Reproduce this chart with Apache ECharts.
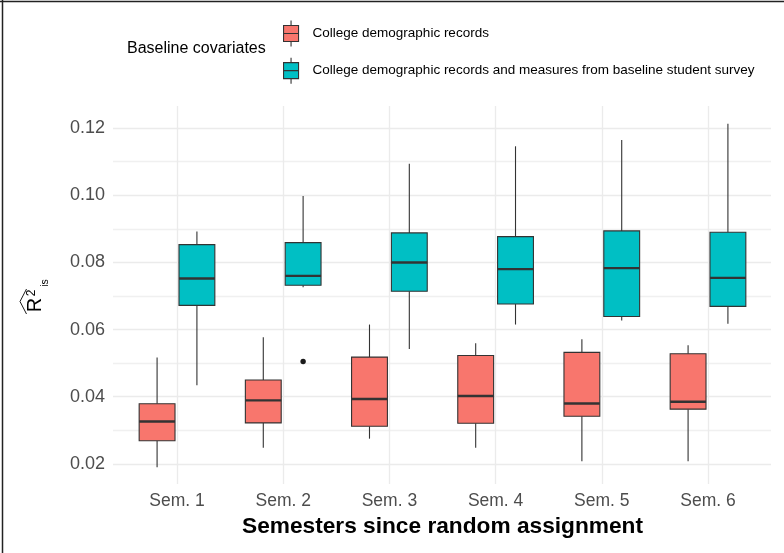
<!DOCTYPE html>
<html><head><meta charset="utf-8">
<script src="https://cdn.jsdelivr.net/npm/echarts@6/dist/echarts.min.js"></script>
<style>html,body{margin:0;padding:0;background:#fff}#c{width:784px;height:553px}</style>
</head><body><div id="c"></div>
<script>
// ---- data ----
const categories = ['Sem. 1', 'Sem. 2', 'Sem. 3', 'Sem. 4', 'Sem. 5', 'Sem. 6'];
const seriesNames = ['College demographic records',
  'College demographic records and measures from baseline student survey'];
const legendTitle = 'Baseline covariates';
const xTitle = 'Semesters since random assignment';
const yTickLabels = ['0.02', '0.04', '0.06', '0.08', '0.10', '0.12'];

const demoMin = [0.0190, 0.0248, 0.0275, 0.0248, 0.0208, 0.0208];
const demoQ1  = [0.0269, 0.0322, 0.0312, 0.0321, 0.0342, 0.0363];
const demoMed = [0.0326, 0.0389, 0.0393, 0.0402, 0.0380, 0.0385];
const demoQ3  = [0.0379, 0.0450, 0.0518, 0.0523, 0.0532, 0.0528];
const demoMax = [0.0517, 0.0577, 0.0615, 0.0559, 0.0571, 0.0553];

const survMin = [0.0434, 0.0726, 0.0542, 0.0615, 0.0627, 0.0617];
const survQ1  = [0.0672, 0.0732, 0.0714, 0.0676, 0.0639, 0.0669];
const survMed = [0.0752, 0.0760, 0.0800, 0.0780, 0.0783, 0.0754];
const survQ3  = [0.0853, 0.0859, 0.0888, 0.0877, 0.0894, 0.0890];
const survMax = [0.0892, 0.0998, 0.1094, 0.1146, 0.1165, 0.1213];
const survOutlierCat = [1];
const survOutlierVal = [0.0505];

// ---- style ----
const FONT = '"Liberation Sans", Arial, Helvetica, sans-serif';
const RED = '#F8766D', TEAL = '#00BFC4', LINE = '#333333', GRID = '#EBEBEB';
const DODGE = 0.1875, BOXW = 0.3375;
const Y_MIN = 0.014, Y_MAX = 0.1266;

function boxData(mn, q1, md, q3, mx) {
  return categories.map((c, i) => [i, mn[i], q1[i], md[i], q3[i], mx[i]]);
}
function makeRender(side) {
  return function (params, api) {
    const i = api.value(0);
    const band = api.size([1, 0])[0];
    const cx = api.coord([i, api.value(3)])[0] + side * DODGE * band;
    const half = BOXW * band / 2;
    const y = k => api.coord([i, api.value(k)])[1];
    const yMin = y(1), yQ1 = y(2), yMed = y(3), yQ3 = y(4), yMax = y(5);
    const fill = api.visual('color');
    const ls = { stroke: LINE, lineWidth: 1.1 };
    return { type: 'group', children: [
      { type: 'line', shape: { x1: cx, y1: yMax, x2: cx, y2: yQ3 }, style: ls },
      { type: 'line', shape: { x1: cx, y1: yQ1, x2: cx, y2: yMin }, style: ls },
      { type: 'rect', shape: { x: cx - half, y: yQ3, width: 2 * half, height: yQ1 - yQ3 },
        style: { fill: fill, stroke: LINE, lineWidth: 1.1 } },
      { type: 'line', shape: { x1: cx - half, y1: yMed, x2: cx + half, y2: yMed },
        style: { stroke: LINE, lineWidth: 2.4 } }
    ]};
  };
}
function renderOutlier(side) {
  return function (params, api) {
    const band = api.size([1, 0])[0];
    const p = api.coord([api.value(0), api.value(1)]);
    return { type: 'circle', shape: { cx: p[0] + side * DODGE * band, cy: p[1], r: 2.7 },
      style: { fill: '#1a1a1a' } };
  };
}

const legendIcon = 'path://M0,5L15,5L15,21L0,21Z M7.5,0L7.5,5 M0,13L15,13 M7.5,21L7.5,26';

const chart = echarts.init(document.getElementById('c'), null, { renderer: 'canvas' });
chart.setOption({
  backgroundColor: '#ffffff',
  animation: false,
  textStyle: { fontFamily: FONT },
  title: { text: legendTitle, left: 127, top: 41, padding: 0,
    textStyle: { fontSize: 16, fontWeight: 'normal', color: '#000', fontFamily: FONT } },
  legend: {
    orient: 'vertical', left: 283, top: 20, padding: 0, itemWidth: 15, itemHeight: 26, itemGap: 10,
    data: [{ name: seriesNames[0], icon: legendIcon }, { name: seriesNames[1], icon: legendIcon }],
    itemStyle: { borderColor: LINE, borderWidth: 1.1 },
    textStyle: { fontSize: 13.5, color: '#000', fontFamily: FONT, padding: [0, 0, 0, 9] },
    selectedMode: false
  },
  grid: [
    { left: 113, right: 13, top: 106, bottom: 69 },
    { left: 177, right: 76, top: 106, bottom: 69 }
  ],
  xAxis: [
    { gridIndex: 0, type: 'value', min: 0, max: 1, show: false },
    { gridIndex: 1, type: 'category', data: categories, boundaryGap: false,
      axisLine: { show: false }, axisTick: { show: false },
      axisLabel: { interval: 0, fontSize: 17.5, color: '#4D4D4D', margin: 8, fontFamily: FONT },
      splitLine: { show: true, interval: 0, lineStyle: { color: GRID, width: 1.3 } },
      name: xTitle, nameLocation: 'middle', nameGap: 30,
      nameTextStyle: { fontSize: 22.7, fontWeight: 'bold', color: '#000', fontFamily: FONT } }
  ],
  yAxis: [
    { gridIndex: 0, type: 'value', min: Y_MIN, max: Y_MAX, interval: 0.002,
      axisLine: { show: false }, axisTick: { show: false },
      axisLabel: { fontSize: 18, color: '#4D4D4D', margin: 8, fontFamily: FONT,
        formatter: v => { const s = v.toFixed(2); return (Math.abs(v - parseFloat(s)) < 1e-6 && yTickLabels.indexOf(s) >= 0) ? s : ''; } },
      splitLine: { show: true, lineStyle: { width: 1.3,
        color: ['rgba(0,0,0,0)', 'rgba(0,0,0,0)', 'rgba(0,0,0,0)', GRID, 'rgba(0,0,0,0)',
                'rgba(0,0,0,0)', 'rgba(0,0,0,0)', 'rgba(0,0,0,0)', '#F0F0F0', 'rgba(0,0,0,0)'] } } },
    { gridIndex: 1, type: 'value', min: Y_MIN, max: Y_MAX, show: false }
  ],
  series: [
    { name: seriesNames[0], type: 'custom', xAxisIndex: 1, yAxisIndex: 1,
      itemStyle: { color: RED }, renderItem: makeRender(-1),
      encode: { x: 0, y: [1, 2, 3, 4, 5] },
      data: boxData(demoMin, demoQ1, demoMed, demoQ3, demoMax) },
    { name: seriesNames[1], type: 'custom', xAxisIndex: 1, yAxisIndex: 1,
      itemStyle: { color: TEAL }, renderItem: makeRender(1),
      encode: { x: 0, y: [1, 2, 3, 4, 5] },
      data: boxData(survMin, survQ1, survMed, survQ3, survMax) },
    { name: 'outliers', type: 'custom', xAxisIndex: 1, yAxisIndex: 1,
      renderItem: renderOutlier(1), encode: { x: 0, y: 1 },
      data: survOutlierCat.map((c, k) => [c, survOutlierVal[k]]) }
  ],
  graphic: [
    { type: 'line', shape: { x1: 0, y1: 1.5, x2: 784, y2: 1.5 }, style: { stroke: '#222', lineWidth: 1.5 } },
    { type: 'line', shape: { x1: 2.5, y1: 0, x2: 2.5, y2: 553 }, style: { stroke: '#222', lineWidth: 1.5 } },
    { type: 'polyline', shape: { points: [[26.5, 289], [20, 301.5], [26.5, 314]] },
      style: { stroke: '#1a1a1a', lineWidth: 1, fill: null } },
    { type: 'text', x: 35, y: 305, rotation: Math.PI / 2,
      style: { text: 'R', font: '20px ' + FONT, fill: '#000', align: 'center', verticalAlign: 'middle' } },
    { type: 'text', x: 32, y: 293, rotation: Math.PI / 2,
      style: { text: '2', font: '12px ' + FONT, fill: '#000', align: 'center', verticalAlign: 'middle' } },
    { type: 'text', x: 45, y: 283, rotation: Math.PI / 2,
      style: { text: 'is', font: '10.5px ' + FONT, fill: '#000', align: 'center', verticalAlign: 'middle' } }
  ]
});
</script></body></html>
